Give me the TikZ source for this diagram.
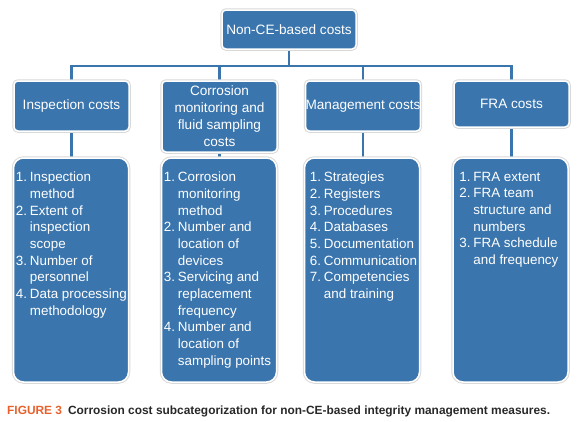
\documentclass[tikz,border=0pt]{standalone}
\usepackage{fontspec}
\setmainfont{Liberation Sans}
\usetikzlibrary{backgrounds}
\definecolor{boxblue}{RGB}{58,117,173}
\definecolor{figorange}{RGB}{232,97,44}
\definecolor{captgray}{RGB}{40,40,40}
\newcommand{\nb}[1]{\makebox[14pt][l]{#1}}
\newcommand{\ind}{\hspace*{14pt}}
\begin{document}
\begin{tikzpicture}[x=1pt,y=-1pt,
  box/.style={fill=boxblue, draw=white, line width=1.5pt, text=white,
    font=\fontsize{13.6}{17}\selectfont, inner sep=0pt,
    preaction={draw=black!15, line width=3.5pt}},
  hdr/.style={box, rounded corners=4pt, align=center},
  lst/.style={box, rounded corners=10pt, minimum width=115pt, minimum height=224pt},
  lsttext/.style={anchor=north west, inner sep=0pt, text=white, align=left,
    font=\fontsize{13.4}{16.7}\selectfont},
  conn/.style={draw=boxblue, line width=2.5pt}]
\useasboundingbox (0,0) rectangle (580,421);

\node[hdr, minimum width=134pt, minimum height=39pt] (top) at (289,29.5) {Non-CE-based costs};

\node[hdr, minimum width=115pt, minimum height=50pt] (insp) at (71.5,106) {Inspection costs};
\node[hdr, minimum width=115pt, minimum height=71pt] (corr) at (219.5,116.5) {Corrosion\\monitoring and\\fluid sampling\\costs};
\node[hdr, minimum width=114pt, minimum height=50pt] (mgmt) at (363,106) {Management costs};
\node[hdr, minimum width=115pt, minimum height=46pt] (fra) at (511.5,104) {FRA costs};

\node[lst] (l1) at (71,270) {};
\node[lst] (l2) at (219,270) {};
\node[lst] (l3) at (362,270) {};
\node[lst] (l4) at (510.5,270) {};

\node[lsttext] (t1) at ([shift={(3,14.5)}]l1.north west) {%
\nb{1.}Inspection\\ \ind method\\ \nb{2.}Extent of\\ \ind inspection\\ \ind scope\\
\nb{3.}Number of\\ \ind personnel\\ \nb{4.}Data processing\\ \ind methodology};
\node[lsttext] (t2) at ([shift={(3,14.5)}]l2.north west) {%
\nb{1.}Corrosion\\ \ind monitoring\\ \ind method\\ \nb{2.}Number and\\ \ind location of\\ \ind devices\\
\nb{3.}Servicing and\\ \ind replacement\\ \ind frequency\\ \nb{4.}Number and\\ \ind location of\\ \ind sampling points};
\node[lsttext] (t3) at ([shift={(6,14.5)}]l3.north west) {%
\nb{1.}Strategies\\ \nb{2.}Registers\\ \nb{3.}Procedures\\ \nb{4.}Databases\\ \nb{5.}Documentation\\
\nb{6.}Communication\\ \nb{7.}Competencies\\ \ind and training};
\node[lsttext] (t4) at ([shift={(7,14.5)}]l4.north west) {%
\nb{1.}FRA extent\\ \nb{2.}FRA team\\ \ind structure and\\ \ind numbers\\ \nb{3.}FRA schedule\\ \ind and frequency};

\coordinate (bus) at (0,66);
\begin{scope}[on background layer]
\draw[conn] (top.south) -- (top.south |- bus);
\draw[conn] (insp.north) -- (insp.north |- bus) -- (fra.north |- bus) -- (fra.north);
\draw[conn] (corr.north |- bus) -- (corr.north);
\draw[conn] (mgmt.north |- bus) -- (mgmt.north);
\draw[conn] (insp.south) -- (insp.south |- l1.north);
\draw[conn] (corr.south) -- (corr.south |- l2.north);
\draw[conn] (mgmt.south) -- (mgmt.south |- l3.north);
\draw[conn] (fra.south) -- (fra.south |- l4.north);
\end{scope}

\node[anchor=west, inner sep=0pt, font=\bfseries\fontsize{11.9}{13}\selectfont, text=captgray] (cap) at (7,411)
  {\textcolor{figorange}{FIGURE 3}\hspace{6pt}Corrosion cost subcategorization for non-CE-based integrity management measures.};
\end{tikzpicture}
\end{document}
